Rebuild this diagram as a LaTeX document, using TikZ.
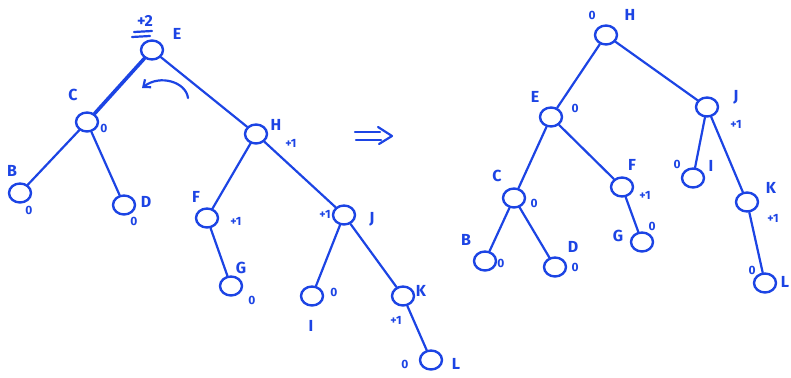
\documentclass[tikz,border=0pt]{standalone}
\usepackage{fontspec}
\setmainfont{Fira Sans}
\usetikzlibrary{shapes.geometric,arrows.meta}
\definecolor{ink}{RGB}{28,68,228}
\begin{document}
\begin{tikzpicture}[x=1pt,y=-1pt,
  ln/.style={line width=2.2pt,draw=ink,line cap=round,line join=round},
  nd/.style={ellipse,draw=ink,line width=2.4pt,minimum width=22pt,minimum height=19pt,inner sep=0pt},
  lbl/.style={text=ink,font=\fontsize{16}{16}\selectfont\bfseries,inner sep=0pt},
  bal/.style={text=ink,font=\fontsize{12}{12}\selectfont\bfseries,inner sep=0pt}]
\useasboundingbox (0,0) rectangle (791,377);
% ---------- left tree ----------
\node[nd] (E) at (152,50) {};
\node[nd] (C) at (87,122) {};
\node[nd] (B) at (20,193) {};
\node[nd] (D) at (124,205) {};
\node[nd] (H) at (256,134) {};
\node[nd] (F) at (207,218) {};
\node[nd] (G) at (231,286) {};
\node[nd] (J) at (344,215) {};
\node[nd] (I) at (312,296) {};
\node[nd] (K) at (403,296) {};
\node[nd] (L) at (431,360) {};
\draw[ln,line width=3.6pt] (E) -- (C);
\draw[ln] (E) -- (H);
\draw[ln] (C) -- (B);
\draw[ln] (C) -- (D);
\draw[ln] (H) -- (F);
\draw[ln] (H) -- (J);
\draw[ln] (F) -- (G);
\draw[ln] (J) -- (I);
\draw[ln] (J) -- (K);
\draw[ln] (K) -- (L);
\node[lbl] (lE) at (177,34) {E};
\node[lbl] (bE) at (145,21) {+2};
\draw[ln] (134,32) -- (152,31);
\draw[ln] (132,37) -- (150,36);
\node[lbl] (lC) at (73,95) {C};
\node[bal] (bC) at (104,128) {0};
\node[lbl] (lB) at (12,171) {B};
\node[bal] (bB) at (29,210) {0};
\node[lbl] (lD) at (146,202) {D};
\node[bal] (bD) at (134,221) {0};
\node[lbl] (lH) at (276,125) {H};
\node[bal] (bH) at (291,143) {+1};
\node[lbl] (lF) at (196,197) {F};
\node[bal] (bF) at (236,221) {+1};
\node[lbl] (lG) at (241,268) {G};
\node[bal] (bG) at (252,300) {0};
\node[lbl] (lJ) at (372,219) {J};
\node[bal] (bJ) at (325,214) {+1};
\node[lbl] (lI) at (311,326) {I};
\node[bal] (bI) at (334,292) {0};
\node[lbl] (lK) at (421,291) {K};
\node[bal] (bK) at (396,320) {+1};
\node[lbl] (lL) at (456,364) {L};
\node[bal] (bL) at (405,364) {0};
\coordinate (r1) at (188,98);
\coordinate (r2) at (142,88);
\draw[ln,-{Straight Barb[length=6pt,width=10pt]}] (r1) .. controls (186,82) and (160,74) .. (r2);
% arrow =>
\draw[ln] (355,132) -- (380,132);
\draw[ln] (356,140) -- (381,140);
\draw[ln] (378,127) -- (392,136) -- (379,144);
% ---------- right tree ----------
\node[nd] (H2) at (606,35) {};
\node[nd] (E2) at (551,117) {};
\node[nd] (J2) at (707,107) {};
\node[nd] (C2) at (514,198) {};
\node[nd] (F2) at (622,187) {};
\node[nd] (I2) at (693,178) {};
\node[nd] (K2) at (747,202) {};
\node[nd] (B2) at (485,261) {};
\node[nd] (D2) at (555,267) {};
\node[nd] (G2) at (642,242) {};
\node[nd] (L2) at (765,283) {};
\draw[ln] (H2) -- (E2);
\draw[ln] (H2) -- (J2);
\draw[ln] (E2) -- (C2);
\draw[ln] (E2) -- (F2);
\draw[ln] (C2) -- (B2);
\draw[ln] (C2) -- (D2);
\draw[ln] (F2) -- (G2);
\draw[ln] (J2) -- (I2);
\draw[ln] (J2) -- (K2);
\draw[ln] (K2) -- (L2);
\node[bal] (bH2) at (592,15) {0};
\node[lbl] (lH2) at (630,15) {H};
\node[lbl] (lE2) at (535,97) {E};
\node[bal] (bE2) at (575,108) {0};
\node[lbl] (lJ2) at (736,97) {J};
\node[bal] (bJ2) at (736,124) {+1};
\node[lbl] (lC2) at (497,176) {C};
\node[bal] (bC2) at (534,203) {0};
\node[lbl] (lF2) at (632,165) {F};
\node[bal] (bF2) at (645,195) {+1};
\node[lbl] (lI2) at (711,166) {I};
\node[bal] (bI2) at (677,164) {0};
\node[lbl] (lK2) at (771,188) {K};
\node[bal] (bK2) at (773,218) {+1};
\node[lbl] (lB2) at (466,240) {B};
\node[bal] (bB2) at (501,263) {0};
\node[lbl] (lD2) at (573,247) {D};
\node[bal] (bD2) at (575,267) {0};
\node[lbl] (lG2) at (618,236) {G};
\node[bal] (bG2) at (652,226) {0};
\node[lbl] (lL2) at (785,282) {L};
\node[bal] (bL2) at (752,270) {0};
\end{tikzpicture}
\end{document}
